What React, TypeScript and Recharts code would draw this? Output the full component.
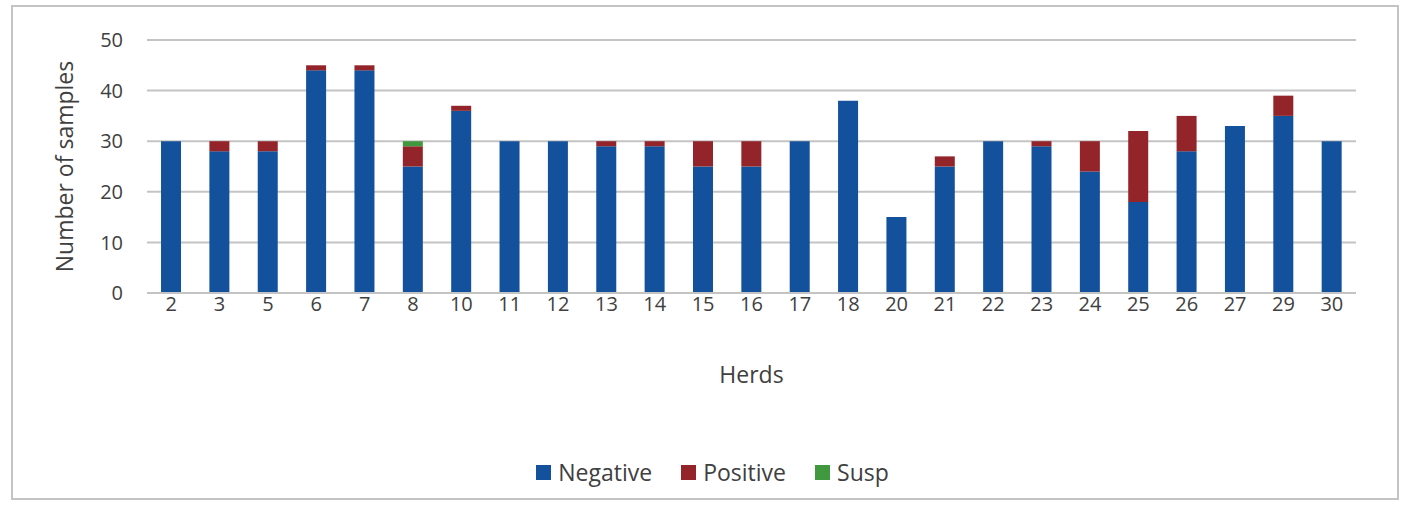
import React from 'react';
import { BarChart, Bar, XAxis, YAxis, CartesianGrid, Legend, Label } from 'recharts';

// herds on the x axis
const herds = ['2', '3', '5', '6', '7', '8', '10', '11', '12', '13', '14', '15', '16', '17', '18', '20', '21', '22', '23', '24', '25', '26', '27', '29', '30'];
const negative = [30, 28, 28, 44, 44, 25, 36, 30, 30, 29, 29, 25, 25, 30, 38, 15, 25, 30, 29, 24, 18, 28, 33, 35, 30];
const positive = [0, 2, 2, 1, 1, 4, 1, 0, 0, 1, 1, 5, 5, 0, 0, 0, 2, 0, 1, 6, 14, 7, 0, 4, 0];
const susp = [0, 0, 0, 0, 0, 1, 0, 0, 0, 0, 0, 0, 0, 0, 0, 0, 0, 0, 0, 0, 0, 0, 0, 0, 0];
const yTicks = [0, 10, 20, 30, 40, 50];

const data = herds.map((h, i) => ({
  herd: h,
  Negative: negative[i],
  Positive: positive[i],
  Susp: susp[i],
}));

const font = '"Open Sans", Lato, sans-serif';
const textColor = '#404040';

// legend like the Excel one: square swatch + text, wide spacing
const renderLegend = (props: any) => {
  const { payload } = props;
  return (
    <div style={{ display: 'flex', justifyContent: 'center', gap: 29, fontFamily: font, fontSize: 23, color: textColor, paddingLeft: 56 }}>
      {payload.map((entry: any) => (
        <div key={entry.value} style={{ display: 'flex', alignItems: 'center', gap: 7 }}>
          <div style={{ width: 15, height: 15, background: entry.color }} />
          <span>{entry.value}</span>
        </div>
      ))}
    </div>
  );
};

export default function App() {
  return (
    <div
      style={{
        position: 'absolute',
        left: 11,
        top: 5,
        width: 1384,
        height: 491,
        border: '2px solid #c4c4c4',
        background: '#fff',
        fontFamily: font,
      }}
    >
      <BarChart
        width={1384}
        height={491}
        data={data}
        barCategoryGap="29%"
        margin={{ top: 33, right: 41, left: 0, bottom: 81 }}
      >
        <CartesianGrid vertical={false} stroke="#c4c4c4" strokeWidth={2} />
        <XAxis
          dataKey="herd"
          height={92}
          tickLine={false}
          tickSize={0}
          tickMargin={4}
          axisLine={{ stroke: '#c4c4c4', strokeWidth: 2 }}
          tick={{ fontSize: 20, fill: textColor, fontFamily: font }}
          interval={0}
        >
          <Label value="Herds" position="insideBottom" offset={2} style={{ fontSize: 23, fill: textColor, fontFamily: font }} />
        </XAxis>
        <YAxis
          width={134}
          domain={[0, 50]}
          ticks={yTicks}
          axisLine={false}
          tickLine={false}
          tickSize={0}
          tickMargin={24}
          tick={{ fontSize: 20, fill: textColor, fontFamily: font }}
        >
          <Label
            value="Number of samples"
            angle={-90}
            position="insideLeft"
            offset={52}
            style={{ fontSize: 23, fill: textColor, fontFamily: font, textAnchor: 'middle' }}
          />
        </YAxis>
        <Legend
          verticalAlign="bottom"
          content={renderLegend}
          wrapperStyle={{ bottom: 10 }}
        />
        <Bar dataKey="Negative" stackId="a" fill="#13519d" isAnimationActive={false} />
        <Bar dataKey="Positive" stackId="a" fill="#93252a" isAnimationActive={false} />
        <Bar dataKey="Susp" stackId="a" fill="#41993f" isAnimationActive={false} />
      </BarChart>
    </div>
  );
}
